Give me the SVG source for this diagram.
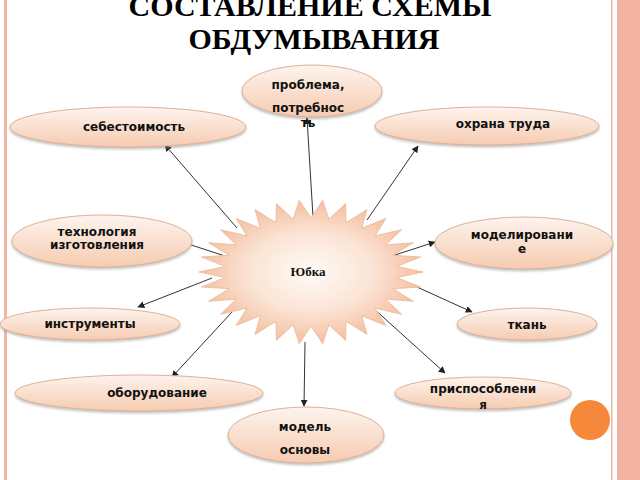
<svg xmlns="http://www.w3.org/2000/svg" width="640" height="480" viewBox="0 0 640 480">
<defs>
<linearGradient id="eg" x1="0" y1="0" x2="0" y2="1">
<stop offset="0" stop-color="#fdf4ee"/>
<stop offset="1" stop-color="#f6cbb0"/>
</linearGradient>
<radialGradient id="sg" cx="0.5" cy="0.5" r="0.5">
<stop offset="0" stop-color="#fffbf8"/>
<stop offset="0.55" stop-color="#fbe4d5"/>
<stop offset="1" stop-color="#f3bfa0"/>
</radialGradient>
<filter id="sh" x="-10%" y="-20%" width="120%" height="150%">
<feDropShadow dx="0" dy="2" stdDeviation="1.2" flood-color="#888" flood-opacity="0.5"/>
</filter>
<marker id="ah" viewBox="0 0 10 10" refX="9" refY="5" markerWidth="7" markerHeight="7" markerUnits="userSpaceOnUse" orient="auto">
<path d="M0,0 L10,5 L0,10 z" fill="#222"/>
</marker>
<style>
.n{fill:url(#eg);stroke:#ddb196;stroke-width:1;filter:url(#sh)}
.t{font-family:"DejaVu Sans",Verdana,sans-serif;font-size:12px;font-weight:bold;fill:#111;text-anchor:middle}
.c line{stroke:#333;stroke-width:1;marker-end:url(#ah)}
.ttl{font-family:"Liberation Serif","Times New Roman",serif;font-size:30px;font-weight:bold;fill:#000;text-anchor:middle}
</style>
</defs>
<rect width="640" height="480" fill="#fff"/>
<rect x="4" y="0" width="3" height="480" fill="#f2b4a4"/>
<rect x="611" y="0" width="1.5" height="480" fill="#f2b4a4"/>
<rect x="617" y="0" width="23" height="480" fill="#f2b3a2"/>
<circle cx="590" cy="420" r="20" fill="#f5883a"/>
<text class="ttl" x="310" y="16">СОСТАВЛЕНИЕ СХЕМЫ</text>
<text class="ttl" x="314" y="49">ОБДУМЫВАНИЯ</text>
<g class="c">
<line x1="313" y1="217" x2="307" y2="118"/>
<line x1="237" y1="228" x2="165" y2="145"/>
<line x1="367" y1="220" x2="418" y2="146"/>
<line x1="225" y1="256" x2="182" y2="242"/>
<line x1="395" y1="255" x2="435" y2="242"/>
<line x1="212" y1="278" x2="138" y2="307"/>
<line x1="417" y1="287" x2="472" y2="312"/>
<line x1="232" y1="312" x2="172" y2="377"/>
<line x1="373" y1="308" x2="445" y2="373"/>
<line x1="305" y1="342" x2="304" y2="406"/>
</g>
<g id="center">
<polygon fill="url(#sg)" stroke="#efbfa2" stroke-width="1" points="423,272 396.5,277.6 420.5,287 392.8,288.7 413.3,301.3 385.5,299 401.6,314.3 374.9,308.1 385.9,325.5 361.6,315.7 367,334.4 346,321.3 345.6,340.5 328.9,324.8 322.7,343.6 311,326 299.3,343.6 293.1,324.8 276.4,340.5 276,321.3 255,334.4 260.4,315.7 236.1,325.5 247.1,308.1 220.4,314.3 236.5,299 208.7,301.3 229.2,288.7 201.5,287 225.5,277.6 199,272 225.5,266.4 201.5,257 229.2,255.3 208.7,242.7 236.5,245 220.4,229.7 247.1,235.9 236.1,218.5 260.4,228.3 255,209.6 276,222.7 276.4,203.5 293.1,219.2 299.3,200.4 311,218 322.7,200.4 328.9,219.2 345.6,203.5 346,222.7 367,209.6 361.6,228.3 385.9,218.5 374.9,235.9 401.6,229.7 385.5,245 413.3,242.7 392.8,255.3 420.5,257 396.5,266.4"/>
<text x="308" y="276" font-family="Liberation Serif,'Times New Roman',serif" font-size="13" font-weight="bold" text-anchor="middle" fill="#111">Юбка</text>
</g>
<g id="n-problema">
<ellipse class="n" cx="312" cy="91" rx="70" ry="26"/>
<text class="t" x="308" y="89">проблема,</text>
<text class="t" x="308" y="112">потребнос</text>
<text class="t" x="308" y="127">ть</text>
</g>
<g id="n-sebest">
<ellipse class="n" cx="128" cy="127" rx="118" ry="20"/>
<text class="t" x="134" y="131">себестоимость</text>
</g>
<g id="n-ohrana">
<ellipse class="n" cx="487" cy="126" rx="112" ry="19"/>
<text class="t" x="503" y="128">охрана труда</text>
</g>
<g id="n-tehn">
<ellipse class="n" cx="102" cy="241" rx="90" ry="26"/>
<text class="t" x="97" y="236">технология</text>
<text class="t" x="97" y="249">изготовления</text>
</g>
<g id="n-model">
<ellipse class="n" cx="524" cy="243" rx="89" ry="26"/>
<text class="t" x="522" y="239">моделировани</text>
<text class="t" x="522" y="253">е</text>
</g>
<g id="n-instr">
<ellipse class="n" cx="90" cy="324" rx="90" ry="16"/>
<text class="t" x="90" y="328">инструменты</text>
</g>
<g id="n-tkan">
<ellipse class="n" cx="527" cy="324" rx="70" ry="16"/>
<text class="t" x="527" y="329">ткань</text>
</g>
<g id="n-obor">
<ellipse class="n" cx="139" cy="393" rx="124" ry="18"/>
<text class="t" x="157" y="397">оборудование</text>
</g>
<g id="n-prisp">
<ellipse class="n" cx="483" cy="393" rx="88" ry="16"/>
<text class="t" x="483" y="393">приспособлени</text>
<text class="t" x="483" y="409">я</text>
</g>
<g id="n-osnova">
<ellipse class="n" cx="306" cy="435" rx="78" ry="28"/>
<text class="t" x="305" y="431">модель</text>
<text class="t" x="305" y="454">основы</text>
</g>
</svg>
